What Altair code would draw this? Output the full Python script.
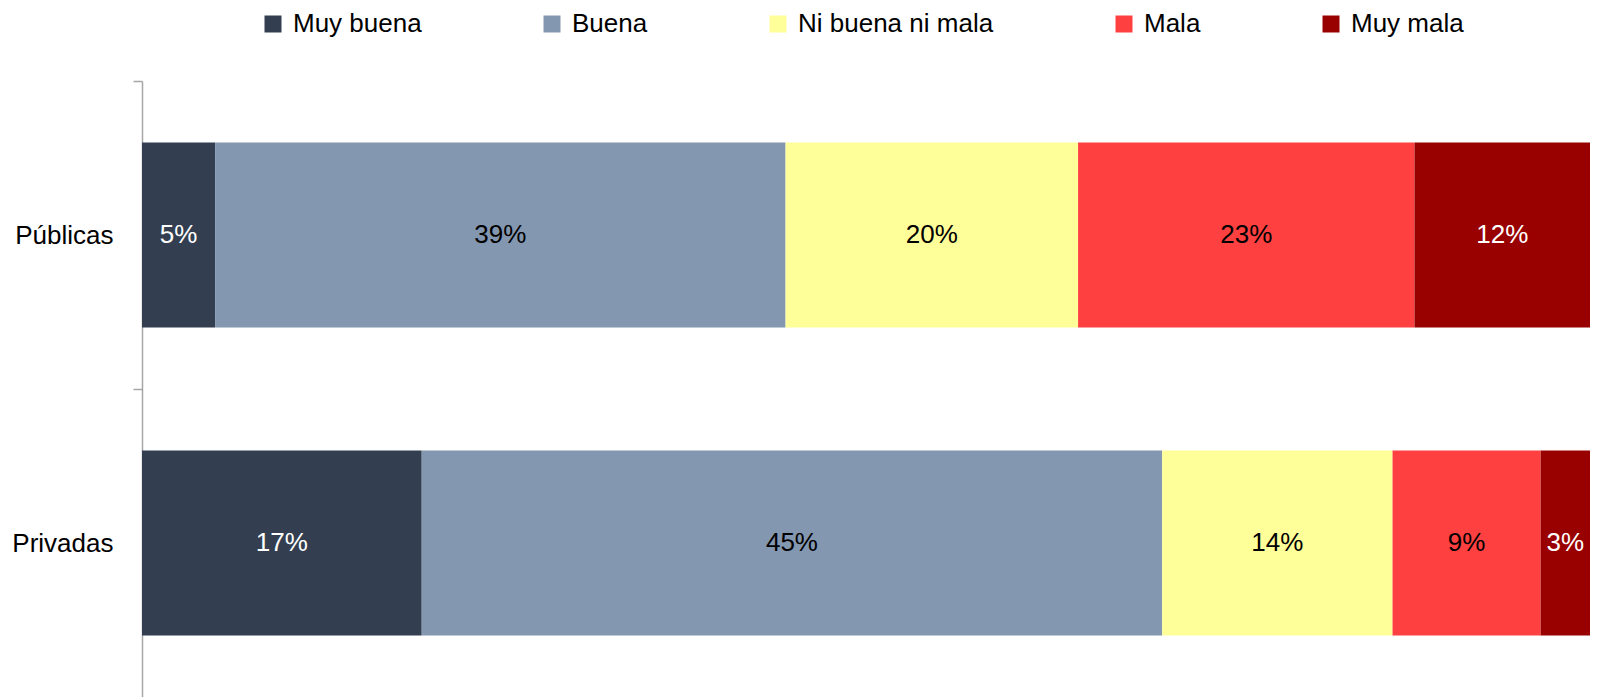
import altair as alt
import pandas as pd

tipos = ["Públicas", "Privadas"]
niveles = ["Muy buena", "Buena", "Ni buena ni mala", "Mala", "Muy mala"]
colores = ["#333F50", "#8497B0", "#FFFF99", "#FF4040", "#990000"]
publicas = [5, 39, 20, 23, 12]
privadas = [17, 45, 14, 9, 3]

rows = []
for t, vals in zip(tipos, [publicas, privadas]):
    for i, (n, v) in enumerate(zip(niveles, vals)):
        rows.append({"tipo": t, "nivel": n, "orden": i, "valor": v,
                     "etiqueta": f"{v}%"})
df = pd.DataFrame(rows)

FONT = "Liberation Sans Narrow, Arial Narrow, Liberation Sans, Arial, sans-serif"
FS = 26
H = 616
STEP = H / 2

base = alt.Chart(df).transform_stack(
    stack="valor", groupby=["tipo"], as_=["x0", "x1"],
    sort=[alt.SortField("orden", order="ascending")], offset="normalize"
).transform_calculate(mid="(datum.x0 + datum.x1) / 2")

yenc = alt.Y("tipo:N", sort=tipos, title=None,
             scale=alt.Scale(paddingInner=0.4, paddingOuter=0.2),
             axis=alt.Axis(tickOffset=-STEP / 2, labelOffset=STEP / 2,
                           domainColor="#a6a6a6", tickColor="#a6a6a6",
                           tickSize=9, labelPadding=20, labelFontSize=FS, labelFont=FONT,
                           labelColor="black", domainWidth=1.5, tickWidth=1.5))

bars = base.mark_bar(stroke=None).encode(
    x=alt.X("x0:Q", scale=alt.Scale(domain=[0, 1]), axis=None),
    x2="x1:Q",
    y=yenc,
    color=alt.Color("nivel:N", sort=niveles,
                    scale=alt.Scale(domain=niveles, range=colores),
                    legend=alt.Legend(title=None, orient="none", direction="horizontal",
                                      columns=5, legendX=118, legendY=-70,
                                      symbolType="square", symbolSize=289,
                                      symbolStrokeWidth=0, labelFontSize=FS,
                                      labelFont=FONT, labelColor="black",
                                      labelOffset=7, columnPadding=117,
                                      labelLimit=400)),
)

text = base.mark_text(fontSize=FS, font=FONT).encode(
    x=alt.X("mid:Q", scale=alt.Scale(domain=[0, 1]), axis=None),
    y=alt.Y("tipo:N", sort=tipos),
    text="etiqueta:N",
    color=alt.condition(
        alt.FieldOneOfPredicate(field="nivel", oneOf=["Muy buena", "Muy mala"]),
        alt.value("white"), alt.value("black")),
)

chart = alt.layer(bars, text).properties(
    width=1448, height=H,
    autosize=alt.AutoSizeParams(type="none"),
    padding={"left": 134, "top": 73, "right": 0, "bottom": 0},
).configure_view(stroke=None).configure_axis(grid=False)

chart.save("out.html", embed_options={"renderer": "svg", "actions": False})
